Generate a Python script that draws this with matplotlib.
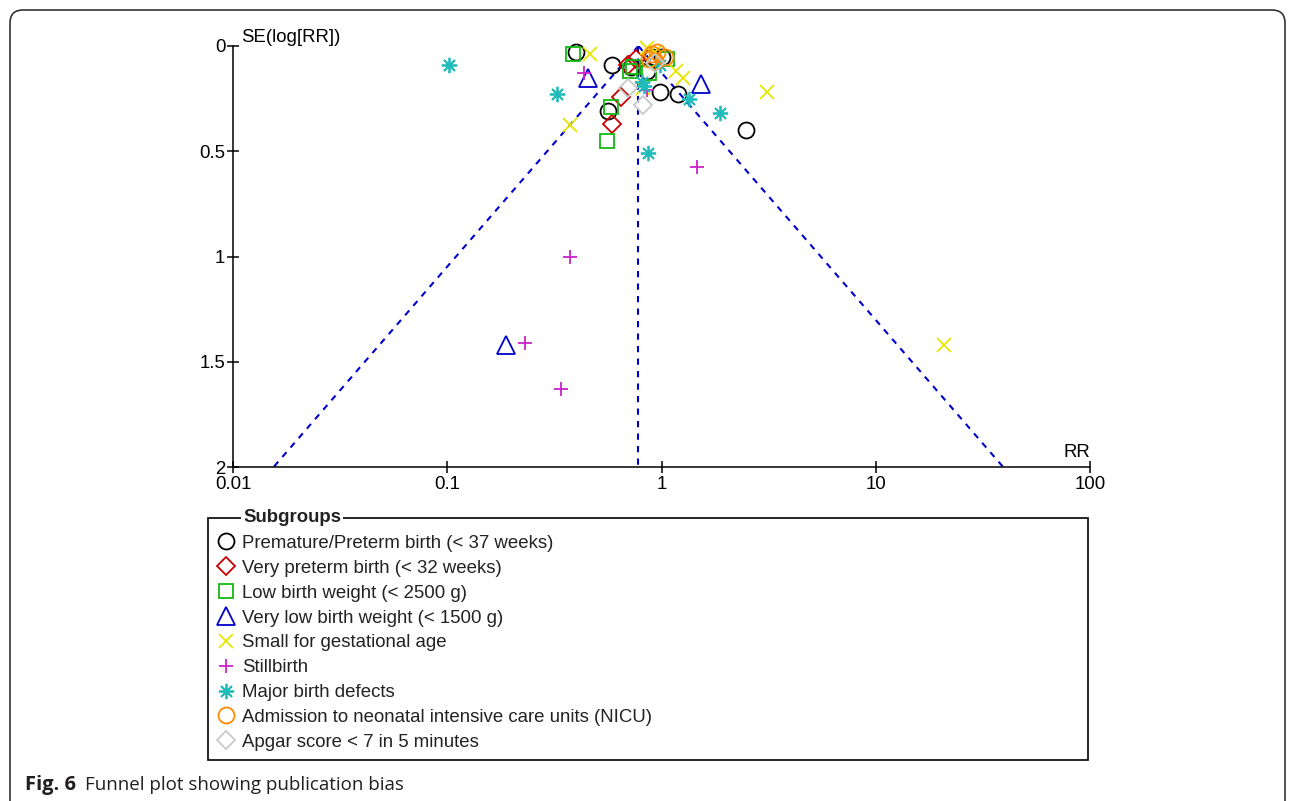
import numpy as np
import matplotlib
matplotlib.use("Agg")
import matplotlib.pyplot as plt
from matplotlib.lines import Line2D
from matplotlib.patches import FancyBboxPatch, Rectangle

plt.rcParams['font.family'] = ['Liberation Sans', 'DejaVu Sans']

### Data (RR, SE of log RR) per subgroup
rr_preterm = [0.40, 0.59, 0.72, 0.86, 0.98, 1.19, 2.48, 0.56, 0.90, 1.00]
se_preterm = [0.03, 0.09, 0.10, 0.12, 0.22, 0.23, 0.40, 0.31, 0.05, 0.05]

rr_very_preterm = [0.70, 0.65, 0.59, 0.76]
se_very_preterm = [0.09, 0.24, 0.37, 0.06]

rr_lbw = [0.386, 0.58, 0.557, 0.713, 0.74, 0.875, 1.06]
se_lbw = [0.04, 0.29, 0.45, 0.12, 0.10, 0.13, 0.06]

rr_vlbw = [0.454, 1.53, 0.188]
se_vlbw = [0.15, 0.18, 1.42]

rr_sga = [0.463, 0.374, 3.11, 20.8, 1.17, 1.26, 0.86, 0.93, 0.82]
se_sga = [0.04, 0.375, 0.22, 1.42, 0.12, 0.15, 0.01, 0.03, 0.20]

rr_stillbirth = [0.435, 1.47, 0.374, 0.231, 0.34, 0.855]
se_stillbirth = [0.13, 0.575, 1.00, 1.41, 1.63, 0.21]

rr_defects = [0.102, 0.325, 0.865, 1.34, 1.87, 0.81, 0.83, 0.98]
se_defects = [0.09, 0.23, 0.51, 0.25, 0.32, 0.17, 0.19, 0.09]

rr_nicu = [0.90, 0.95, 1.04, 0.93, 0.87]
se_nicu = [0.04, 0.03, 0.05, 0.07, 0.06]

rr_apgar = [0.82, 0.70, 0.93]
se_apgar = [0.28, 0.20, 0.08]

pooled_rr = 0.78

labels = ["Premature/Preterm birth (< 37 weeks)",
          "Very preterm birth (< 32 weeks)",
          "Low birth weight (< 2500 g)",
          "Very low birth weight (< 1500 g)",
          "Small for gestational age",
          "Stillbirth",
          "Major birth defects",
          "Admission to neonatal intensive care units (NICU)",
          "Apgar score < 7 in 5 minutes"]

x_ticks = [0.01, 0.1, 1, 10, 100]
x_ticklabels = ["0.01", "0.1", "1", "10", "100"]
y_ticks = [0, 0.5, 1, 1.5, 2]
y_ticklabels = ["0", "0.5", "1", "1.5", "2"]

### Marker styles
asterisk = (8, 2, 0)
styles = [
    dict(marker='o', color='#000000', ms=11.5),
    dict(marker='D', color='#CC0000', ms=9.2),
    dict(marker='s', color='#11BB11', ms=10),
    dict(marker='^', color='#0000CC', ms=13),
    dict(marker='x', color='#E6E600', ms=10),
    dict(marker='+', color='#CC22CC', ms=10),
    dict(marker=asterisk, color='#22BBBB', ms=11),
    dict(marker='o', color='#FF8C00', ms=11.5),
    dict(marker='D', color='#C8C8C8', ms=9.2),
]
series = [(rr_preterm, se_preterm), (rr_very_preterm, se_very_preterm),
          (rr_lbw, se_lbw), (rr_vlbw, se_vlbw), (rr_sga, se_sga),
          (rr_stillbirth, se_stillbirth), (rr_defects, se_defects),
          (rr_nicu, se_nicu), (rr_apgar, se_apgar)]

W, H = 1292, 801
FS = 13.4
fig = plt.figure(figsize=(W / 100, H / 100), dpi=100)

### outer page frame (rounded)
frame = FancyBboxPatch((0.10, -0.3), 12.75, 8.21, boxstyle="round,pad=0,rounding_size=0.13",
                       transform=fig.dpi_scale_trans, fill=False, edgecolor='#333333',
                       linewidth=1.2, zorder=0)
fig.patches.append(frame)

ax = fig.add_axes([233 / W, 1 - 467 / H, (1090 - 233) / W, (467 - 46) / H])
ax.set_xscale('log')
ax.set_xlim(0.01, 100)
ax.set_ylim(2, 0)

### funnel lines
se_line = np.array([0, 2])
lw_f = 1.5
dash = (0, (3, 3))
ax.plot([pooled_rr, pooled_rr], se_line, color='#0000CC', ls=dash, lw=lw_f, zorder=1)
ax.plot(pooled_rr * np.exp(-1.96 * se_line), se_line, color='#0000CC', ls=dash, lw=lw_f, zorder=1)
ax.plot(pooled_rr * np.exp(1.96 * se_line), se_line, color='#0000CC', ls=dash, lw=lw_f, zorder=1)

handles = []
for (rr, se), st in zip(series, styles):
    ax.plot(rr, se, ls='none', marker=st['marker'], ms=st['ms'], mfc='none',
            mec=st['color'], mew=1.3, clip_on=False, zorder=3)
    handles.append(Line2D([], [], ls='none', marker=st['marker'], ms=st['ms'], mfc='none',
                          mec=st['color'], mew=1.3))

for s in ['top', 'right']:
    ax.spines[s].set_visible(False)
for s in ['left', 'bottom']:
    ax.spines[s].set_linewidth(1.1)

ax.set_xticks(x_ticks)
ax.set_xticklabels(x_ticklabels)
ax.xaxis.set_minor_locator(matplotlib.ticker.NullLocator())
ax.set_yticks(y_ticks)
ax.set_yticklabels(y_ticklabels)
ax.tick_params(direction='inout', length=9, width=1.1, labelsize=FS, pad=2)
ax.tick_params(axis='y', pad=1)

ax.text(0.0109, 0.0, "SE(log[RR])", fontsize=FS, ha='left', va='bottom')
ax.text(100, 1.97, "RR", fontsize=FS, ha='right', va='bottom')

### legend box (frame drawn separately)
box = Rectangle((208 / W, 1 - 760 / H), 880 / W, (760 - 518) / H, transform=fig.transFigure,
                fill=True, facecolor='white', edgecolor='black', linewidth=1.2, zorder=4)
fig.patches.append(box)

leg = fig.legend(handles, labels, loc='upper left',
                 bbox_to_anchor=(208 / W, 1 - 521 / H),
                 fontsize=FS, frameon=False, borderaxespad=0,
                 handlelength=0.43, handletextpad=0.65, labelspacing=0.42,
                 borderpad=0.75)
leg.set_zorder(6)
for t in leg.get_texts():
    t.set_color('#222222')

fig.text(243 / W, 1 - 518 / H, "Subgroups", fontsize=FS, fontweight='bold', color='#222222',
         ha='left', va='center', zorder=10,
         bbox=dict(facecolor='white', edgecolor='none', pad=1.5))

### caption
fig.text(25 / W, 1 - 785 / H, "Fig. 6", fontsize=14.5, fontweight='bold', color='#231f20',
         family='Open Sans', ha='left', va='center')
fig.text(85 / W, 1 - 785 / H, "Funnel plot showing publication bias", fontsize=13.5,
         color='#231f20', family='Open Sans', ha='left', va='center')

fig.savefig("out.png", dpi=100)
